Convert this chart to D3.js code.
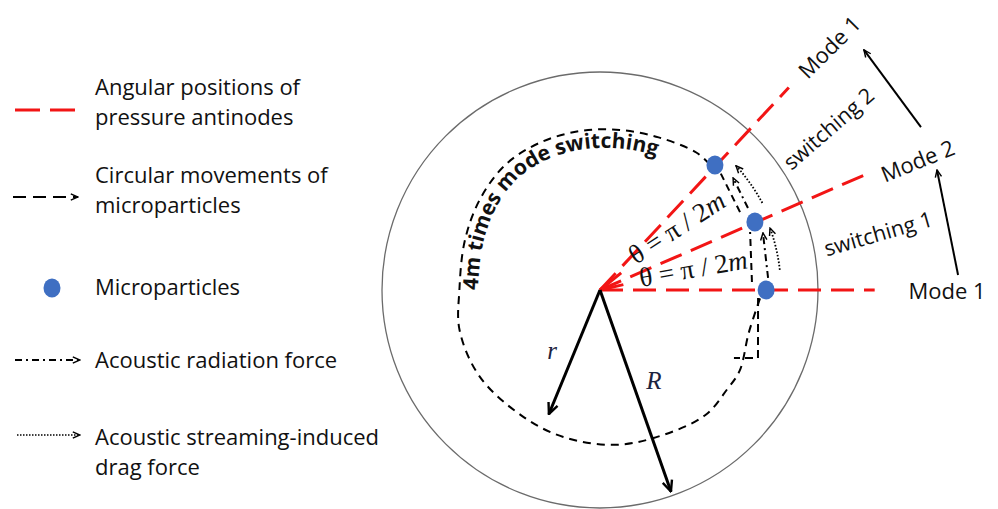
<!DOCTYPE html>
<html>
<head>
<meta charset="utf-8">
<script src="https://cdn.jsdelivr.net/npm/d3@7"></script>
<style>
  body { margin: 0; background: #fff; }
  svg { display: block; }
  text { font-family: "Open Sans", sans-serif; fill: #111; }
</style>
</head>
<body>
<svg width="998" height="509"></svg>
<script>
// Diagram values (angles in degrees, counter-clockwise; radii in units of R)
const modeAngles = [0, 23.5, 47];
const modeLineEnds = [1.26, 1.32, 1.27];
const particleAngles = [0, 23.7, 47.4];
const particleRadii = [0.762, 0.776, 0.779];

// dashed path of the circular movement
const pathAngles = [-3, -16, -30, -38, -50, -69, -85, -104, -121, -144, -164, -180, -200, -217, -233, -248, -263, -277, -291, -305, -311];
const pathRadii = [0.735, 0.71, 0.74, 0.74, 0.75, 0.723, 0.713, 0.695, 0.68, 0.68, 0.67, 0.645, 0.66, 0.69, 0.72, 0.73, 0.735, 0.74, 0.75, 0.77, 0.765];

// short segments between particles: [angle0, radius0, angle1, radius1]
const moveSegments = [[3, 0.698, 21.1, 0.738], [29.1, 0.735, 44.5, 0.772]];
const radiationArrows = [[4.1, 0.773, 19.3, 0.792], [29, 0.776, 40.1, 0.798]];
const radiationCorner = [[-2.9, 0.726], [-23.3, 0.789], [-26.9, 0.689]];
const streamingArcs = [[6.4, 20, 0.83], [28.2, 42.4, 0.845]];
const redHeadAngles = [39, 13];

const modeLabels = ["Mode 1", "Mode 2", "Mode 1"];
const modeLabelAngles = [0, 22.3, 46.8];
const modeLabelRadii = [1.592, 1.573, 1.533];
const switchLabels = ["switching 1", "switching 2"];
const switchLabelAngles = [11.6, 35.4];
const switchLabelRadii = [1.302, 1.283];
const switchArrows = [[2.4, 1.644, 19.6, 1.641], [26.9, 1.651, 42.3, 1.637]];

const radiusLabels = ["r", "R"];
const radiusAngles = [-112.4, -70.6];
const radiusLengths = [0.615, 0.98];
const radiusLabelAngles = [-128.2, -59.3];
const radiusLabelRadii = [0.356, 0.485];

const legendLabels = [
  ["Angular positions of", "pressure antinodes"],
  ["Circular movements of", "microparticles"],
  ["Microparticles"],
  ["Acoustic radiation force"],
  ["Acoustic streaming-induced", "drag force"]
];

const width = 998, height = 509;
const cx = 600, cy = 290;
const svg = d3.select("svg");

const rScale = d3.scaleLinear().domain([0, 1]).range([0, 218]);
const rad = d3.scaleLinear().domain([0, 180]).range([0, Math.PI]);
const px = (a, r) => cx + rScale(r) * Math.cos(rad(a));
const py = (a, r) => cy - rScale(r) * Math.sin(rad(a));

// arrow heads
const defs = svg.append("defs");
defs.append("marker")
    .attr("id", "headBig")
    .attr("viewBox", "0 0 12 12")
    .attr("refX", 11).attr("refY", 6)
    .attr("markerWidth", 13).attr("markerHeight", 13)
    .attr("markerUnits", "userSpaceOnUse")
    .attr("orient", "auto")
  .append("path")
    .attr("d", "M1,1.5 L11,6 L1,10.5")
    .attr("fill", "none").attr("stroke", "#000").attr("stroke-width", 2.2);
defs.append("marker")
    .attr("id", "headSmall")
    .attr("viewBox", "0 0 10 10")
    .attr("refX", 9).attr("refY", 5)
    .attr("markerWidth", 9).attr("markerHeight", 9)
    .attr("markerUnits", "userSpaceOnUse")
    .attr("orient", "auto")
  .append("path")
    .attr("d", "M1,1.5 L9,5 L1,8.5")
    .attr("fill", "none").attr("stroke", "#000").attr("stroke-width", 1.6);

// outer circle
svg.append("circle")
    .attr("cx", cx).attr("cy", cy)
    .attr("r", rScale(1))
    .attr("fill", "none")
    .attr("stroke", "#6b6b6b")
    .attr("stroke-width", 1.3);

// circular movement path
const pathPts = pathAngles.map((a, i) => [px(a, pathRadii[i]), py(a, pathRadii[i])]);
svg.append("path")
    .attr("d", d3.line().curve(d3.curveCatmullRom)(pathPts))
    .attr("fill", "none")
    .attr("stroke", "#000")
    .attr("stroke-width", 2)
    .attr("stroke-dasharray", "8,6");

// curved label inside the dashed path
const textPts = pathAngles.map((a, i) => [a, pathRadii[i] - 0.085])
    .filter(d => d[0] <= -178)
    .map(d => [px(d[0], d[1]), py(d[0], d[1])]);
defs.append("path")
    .attr("id", "labelPath")
    .attr("d", d3.line().curve(d3.curveCatmullRom)(textPts));
svg.append("text")
    .style("font-size", "21px")
    .style("font-weight", 700)
  .append("textPath")
    .attr("href", "#labelPath")
    .attr("startOffset", 0)
    .text("4m times mode switching");

// red antinode lines
svg.selectAll("line.mode")
  .data(modeAngles)
  .enter()
  .append("line")
    .attr("class", "mode")
    .attr("x1", cx).attr("y1", cy)
    .attr("x2", (d, i) => px(d, modeLineEnds[i]))
    .attr("y2", (d, i) => py(d, modeLineEnds[i]))
    .attr("stroke", "#f21515")
    .attr("stroke-width", 3)
    .attr("stroke-dasharray", "23,10");

svg.append("polyline")
    .attr("points", [[px(redHeadAngles[0], 0.125), py(redHeadAngles[0], 0.125)], [cx, cy],
                     [px(redHeadAngles[1], 0.11), py(redHeadAngles[1], 0.11)]].join(" "))
    .attr("fill", "none")
    .attr("stroke", "#f21515")
    .attr("stroke-width", 3);

// segments between particles
svg.selectAll("line.move")
  .data(moveSegments)
  .enter()
  .append("line")
    .attr("x1", d => px(d[0], d[1])).attr("y1", d => py(d[0], d[1]))
    .attr("x2", d => px(d[2], d[3])).attr("y2", d => py(d[2], d[3]))
    .attr("stroke", "#000")
    .attr("stroke-width", 2)
    .attr("stroke-dasharray", "7,5");

svg.selectAll("line.radiation")
  .data(radiationArrows)
  .enter()
  .append("line")
    .attr("x1", d => px(d[0], d[1])).attr("y1", d => py(d[0], d[1]))
    .attr("x2", d => px(d[2], d[3])).attr("y2", d => py(d[2], d[3]))
    .attr("stroke", "#000")
    .attr("stroke-width", 2)
    .attr("stroke-dasharray", "7,4,2,4")
    .attr("marker-end", "url(#headSmall)");

svg.append("polyline")
    .attr("points", radiationCorner.map(d => [px(d[0], d[1]), py(d[0], d[1])]).join(" "))
    .attr("fill", "none")
    .attr("stroke", "#000")
    .attr("stroke-width", 2)
    .attr("stroke-dasharray", "8,5");

svg.selectAll("path.stream")
  .data(streamingArcs)
  .enter()
  .append("path")
    .attr("d", d => `M${px(d[0], d[2])},${py(d[0], d[2])} A${rScale(d[2])},${rScale(d[2])} 0 0 0 ${px(d[1], d[2])},${py(d[1], d[2])}`)
    .attr("fill", "none")
    .attr("stroke", "#000")
    .attr("stroke-width", 1.8)
    .attr("stroke-dasharray", "1.6,1.8")
    .attr("marker-end", "url(#headSmall)");

// microparticles
svg.selectAll("ellipse.particle")
  .data(particleAngles)
  .enter()
  .append("ellipse")
    .attr("cx", (d, i) => px(d, particleRadii[i]))
    .attr("cy", (d, i) => py(d, particleRadii[i]))
    .attr("rx", 8.5).attr("ry", 9.5)
    .attr("fill", "#3f6fc2");

// r and R arrows
svg.selectAll("line.radius")
  .data(radiusAngles)
  .enter()
  .append("line")
    .attr("x1", cx).attr("y1", cy)
    .attr("x2", (d, i) => px(d, radiusLengths[i]))
    .attr("y2", (d, i) => py(d, radiusLengths[i]))
    .attr("stroke", "#000")
    .attr("stroke-width", 3)
    .attr("marker-end", "url(#headBig)");

svg.selectAll("text.radius")
  .data(radiusLabels)
  .enter()
  .append("text")
    .attr("x", (d, i) => px(radiusLabelAngles[i], radiusLabelRadii[i]))
    .attr("y", (d, i) => py(radiusLabelAngles[i], radiusLabelRadii[i]))
    .attr("text-anchor", "middle")
    .attr("dominant-baseline", "central")
    .style("font-family", "'Liberation Serif', serif")
    .style("font-style", "italic")
    .style("font-size", "25px")
    .style("fill", "#1c2340")
    .text(d => d);

// theta labels
const thetaAngles = [4.2, 34.8];
const thetaRadii = [0.189, 0.201];
const thetaRot = [-10, -33];
thetaAngles.forEach((a, i) => {
  const t = svg.append("text")
      .attr("transform", `translate(${px(a, thetaRadii[i])},${py(a, thetaRadii[i])}) rotate(${thetaRot[i]})`)
      .style("font-family", "'Liberation Serif', serif")
      .style("font-size", "27px");
  t.append("tspan").text("θ = π / 2");
  t.append("tspan").style("font-style", "italic").text("m");
});

// mode labels and switching labels
svg.selectAll("text.modeLabel")
  .data(modeLabels)
  .enter()
  .append("text")
    .attr("transform", (d, i) => `translate(${px(modeLabelAngles[i], modeLabelRadii[i])},${py(modeLabelAngles[i], modeLabelRadii[i])}) rotate(${-Math.round(modeLabelAngles[i] * 0.97)})`)
    .attr("text-anchor", "middle")
    .attr("dominant-baseline", "central")
    .style("font-size", "22px")
    .text(d => d);

const switchRot = [-16, -41];
svg.selectAll("text.switchLabel")
  .data(switchLabels)
  .enter()
  .append("text")
    .attr("transform", (d, i) => `translate(${px(switchLabelAngles[i], switchLabelRadii[i])},${py(switchLabelAngles[i], switchLabelRadii[i])}) rotate(${switchRot[i]})`)
    .attr("text-anchor", "middle")
    .attr("dominant-baseline", "central")
    .style("font-size", "21.5px")
    .text(d => d);

svg.selectAll("line.switchArrow")
  .data(switchArrows)
  .enter()
  .append("line")
    .attr("x1", d => px(d[0], d[1])).attr("y1", d => py(d[0], d[1]))
    .attr("x2", d => px(d[2], d[3])).attr("y2", d => py(d[2], d[3]))
    .attr("stroke", "#000")
    .attr("stroke-width", 2)
    .attr("marker-end", "url(#headSmall)");

// legend
const legendTop = [95, 183, 295, 368, 445];
const legendMarkY = [110, 197, 288, 360, 435];
const legend = svg.append("g");

legendLabels.forEach((lines, i) => {
  const t = legend.append("text")
      .attr("x", 95)
      .attr("y", legendTop[i])
      .style("font-size", "22px");
  lines.forEach((s, j) => {
    t.append("tspan").attr("x", 95).attr("dy", j === 0 ? 0 : 30).text(s);
  });
});

legend.append("line")
    .attr("x1", 15).attr("x2", 76)
    .attr("y1", legendMarkY[0]).attr("y2", legendMarkY[0])
    .attr("stroke", "#f21515").attr("stroke-width", 3)
    .attr("stroke-dasharray", "25,10");
legend.append("line")
    .attr("x1", 13).attr("x2", 78)
    .attr("y1", legendMarkY[1]).attr("y2", legendMarkY[1])
    .attr("stroke", "#000").attr("stroke-width", 2)
    .attr("stroke-dasharray", "13,7")
    .attr("marker-end", "url(#headSmall)");
legend.append("ellipse")
    .attr("cx", 52).attr("cy", legendMarkY[2])
    .attr("rx", 8.5).attr("ry", 9.5)
    .attr("fill", "#3f6fc2");
legend.append("line")
    .attr("x1", 15).attr("x2", 80)
    .attr("y1", legendMarkY[3]).attr("y2", legendMarkY[3])
    .attr("stroke", "#000").attr("stroke-width", 1.8)
    .attr("stroke-dasharray", "7,4,2,4")
    .attr("marker-end", "url(#headSmall)");
legend.append("line")
    .attr("x1", 17).attr("x2", 80)
    .attr("y1", legendMarkY[4]).attr("y2", legendMarkY[4])
    .attr("stroke", "#000").attr("stroke-width", 1.6)
    .attr("stroke-dasharray", "1.5,1.5")
    .attr("marker-end", "url(#headSmall)");
</script>
</body>
</html>
